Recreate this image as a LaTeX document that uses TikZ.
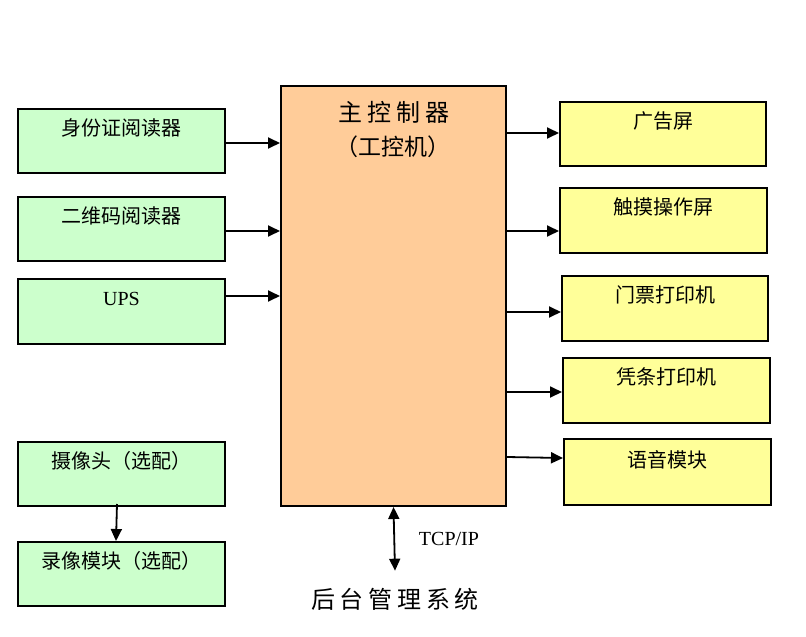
\documentclass[tikz,border=0pt]{standalone}
\usepackage{fontspec}
\setmainfont{Liberation Serif}
\newfontfamily\cjk{Noto Sans CJK SC}
\newfontfamily\cjkwide[LetterSpace=20]{Noto Sans CJK SC}
\usetikzlibrary{arrows.meta,calc}
\definecolor{gfill}{HTML}{CCFFCC}
\definecolor{ofill}{HTML}{FFCC99}
\definecolor{yfill}{HTML}{FFFF99}
\begin{document}
\begin{tikzpicture}[x=1pt,y=-1pt,
  box/.style={draw=black,line width=2pt,minimum width=207pt,minimum height=64pt,inner sep=0pt},
  gbox/.style={box,fill=gfill},
  ybox/.style={box,fill=yfill},
  txt/.style={anchor=center,yshift=-20pt,inner sep=0pt,font=\cjk\fontsize{20}{22}\selectfont},
  ltxt/.style={anchor=center,yshift=-21pt,inner sep=0pt,font=\fontsize{20}{24}\selectfont},
  arr/.style={line width=1.8pt,-{Triangle[length=12pt,width=11pt]}},
  darr/.style={line width=1.8pt,{Triangle[length=12pt,width=11pt]}-{Triangle[length=12pt,width=11pt]}}]
\useasboundingbox (0,0) rectangle (806,637);
% main controller
\node[box,fill=ofill,minimum width=225pt,minimum height=420pt] (main) at (393.5,296) {};
\node[inner sep=0pt,font=\cjkwide\fontsize{24}{28}\selectfont] (t1) at (394,112) {主控制器};
\node[inner sep=0pt,font=\cjk\fontsize{23}{28}\selectfont] (t2) at (393,147) {（工控机）};
% left inputs
\node[gbox,label={[txt]north:身份证阅读器}] (id) at (121.5,141) {};
\node[gbox,label={[txt]north:二维码阅读器}] (qr) at (121.5,229) {};
\node[gbox,minimum height=65pt,label={[ltxt]north:UPS}] (ups) at (121.5,311.5) {};
\node[gbox,label={[txt]north:摄像头（选配）}] (cam) at (121.5,474) {};
\node[gbox,label={[txt]north:录像模块（选配）}] (rec) at (121.5,574) {};
% right outputs
\node[ybox,minimum width=206pt,label={[txt]north:广告屏}] (ad) at (663,134) {};
\node[ybox,minimum height=65pt,label={[txt]north:触摸操作屏}] (touch) at (663.5,220.5) {};
\node[ybox,minimum width=206pt,minimum height=65pt,label={[txt]north:门票打印机}] (tick) at (665,308.5) {};
\node[ybox,minimum height=65pt,label={[txt]north:凭条打印机}] (rcpt) at (666.5,390.5) {};
\node[ybox,minimum height=66pt,label={[txt,yshift=-2pt]north:语音模块}] (voice) at (667.5,472) {};
% back-end
\node[inner sep=0pt,font=\cjkwide\fontsize{24}{28}\selectfont] (sys) at (395,599) {后台管理系统};
\node[inner sep=0pt,font=\fontsize{20}{24}\selectfont] (tcp) at (449,539) {TCP/IP};
% left arrows
\draw[arr] ([yshift=-2pt]id.east) -- ([yshift=-2pt]id.east -| main.west);
\draw[arr] ([yshift=-2pt]qr.east) -- ([yshift=-2pt]qr.east -| main.west);
\draw[arr] ([yshift=15.5pt]ups.east) -- ([yshift=15.5pt]ups.east -| main.west);
\draw[arr] ([xshift=-4.5pt,yshift=3pt]cam.south) -- ([xshift=-5.5pt]rec.north);
% right arrows
\draw[arr] ([yshift=1pt]ad.west -| main.east) -- ([yshift=1pt]ad.west);
\draw[arr] ([yshift=-10.5pt]touch.west -| main.east) -- ([yshift=-10.5pt]touch.west);
\draw[arr] ([yshift=-3.5pt]tick.west -| main.east) -- ([yshift=-3.5pt]tick.west);
\draw[arr] ([yshift=-1.5pt]rcpt.west -| main.east) -- ([yshift=-1.5pt]rcpt.west);
\draw[arr] ([yshift=15pt]voice.west -| main.east) -- ([yshift=14pt]voice.west);
% bottom link
\draw[darr] (main.south) -- ([yshift=17pt]sys.north);
\end{tikzpicture}
\end{document}
